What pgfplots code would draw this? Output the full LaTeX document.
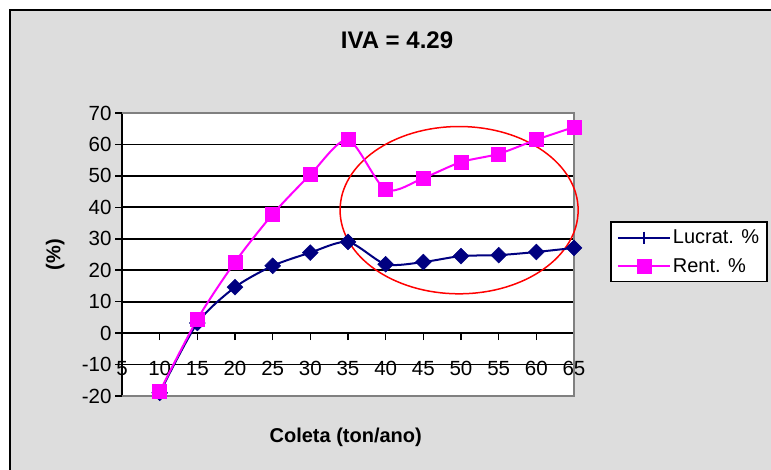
\documentclass[border=0pt]{standalone}
\usepackage{pgfplots}
\pgfplotsset{compat=1.18}
\usepackage{fontspec}
\setmainfont{Liberation Sans}
\definecolor{navyc}{RGB}{0,0,128}
\definecolor{magc}{RGB}{255,0,255}
\definecolor{bgc}{RGB}{221,221,221}
\definecolor{brd}{RGB}{128,128,128}
\begin{document}
\begin{tikzpicture}[x=1pt,y=1pt]
\useasboundingbox (0,0) rectangle (771,470);
\fill[white] (0,0) rectangle (771,470);
\fill[bgc] (10,0) rectangle (771,460);
\draw[black, line width=2pt] (10,0) -- (10,460) -- (771,460);
\node[font=\fontsize{24}{27}\selectfont\bfseries] at (397,429.5) {IVA = 4.29};
\begin{axis}[
  at={(122pt,74pt)}, anchor=south west,
  scale only axis, width=452pt, height=283pt,
  xmin=5, xmax=65, ymin=-20, ymax=70,
  axis x line=middle, axis y line=left,
  hide obscured x ticks=false, hide obscured y ticks=false,
  x axis line style={-, black, line width=1.8pt},
  y axis line style={-, black, line width=1.8pt},
  axis background/.style={fill=white},
  clip=false,
  xtick={5,10,...,65}, ytick={-20,-10,...,70},
  xtick align=outside, ytick align=outside,
  major tick length=7pt,
  tick style={black, line width=1.5pt},
  ymajorgrids,
  grid style={black, line width=1.8pt},
  /pgf/number format/assume math mode=true,
  tick label style={font=\fontsize{20.5}{22}\selectfont},
  xticklabel style={anchor=center, yshift=-28pt},
  every axis x label/.style={at={(axis description cs:0.495,-0.145)}, anchor=center},
  every axis y label/.style={at={(axis description cs:-0.148,0.5)}, anchor=center, rotate=90},
  xlabel={Coleta (ton/ano)},
  ylabel={(\%)},
  label style={font=\fontsize{20}{22}\selectfont\bfseries},
  legend style={at={(axis description cs:1.080,0.618)}, anchor=north west,
    draw=black, line width=1.5pt, fill=white,
    font=\fontsize{20}{24}\selectfont, inner xsep=6pt, inner ysep=6pt,
    row sep=9pt},
  legend cell align=left,
  legend image code/.code={\draw[mark repeat=2,mark phase=2] plot coordinates {(0pt,0pt) (26pt,0pt) (52pt,0pt)};},
]
\draw[brd, line width=1.5pt] (rel axis cs:0,0) -- (rel axis cs:1,0) -- (rel axis cs:1,1) -- (rel axis cs:0,1);
\draw[red, line width=1.5pt] (axis cs:49.75,39.1) ellipse [x radius=15.8, y radius=26.6];
\addlegendimage{navyc, line width=2pt, mark=|, mark size=6pt, mark options={line width=2pt}}
\addlegendentry{Lucrat. \%}
\addplot[navyc, line width=2pt, smooth, tension=0.45, mark=square*, mark size=5.6pt, mark options={rotate=45, fill=navyc, draw=navyc, line width=0.5pt}, forget plot] coordinates {
(10,-19.0) (15,3.2) (20,14.6) (25,21.4) (30,25.6) (35,29.0) (40,21.9) (45,22.6) (50,24.5) (55,24.8) (60,25.8) (65,27.1)
};
\addplot[magc, line width=2pt, smooth, tension=0.45, mark=square*, mark size=7pt, mark options={fill=magc, draw=magc, line width=0.5pt}] coordinates {
(10,-18.6) (15,4.4) (20,22.6) (25,37.8) (30,50.4) (35,61.5) (40,45.6) (45,49.3) (50,54.4) (55,57.0) (60,61.5) (65,65.5)
};
\addlegendentry{Rent. \%}
\end{axis}
\end{tikzpicture}
\end{document}
